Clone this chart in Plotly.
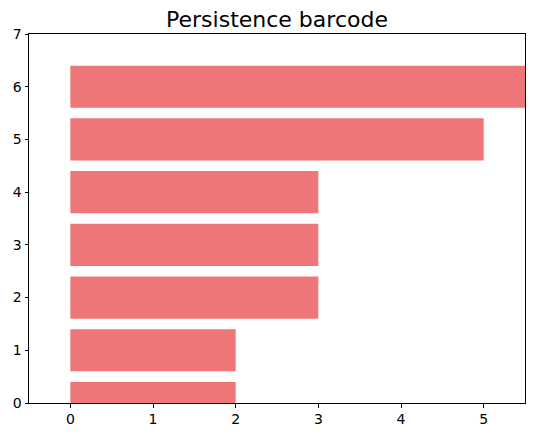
import plotly.graph_objects as go

# persistence intervals (birth, death); last one never dies
births = [0, 0, 0, 0, 0, 0, 0]
deaths = [2, 2, 3, 3, 3, 5, float('inf')]
rows = [0, 1, 2, 3, 4, 5, 6]

x_range = [-0.5, 5.5]
y_range = [0, 7]

# clip the infinite bar at the right edge of the axes
lengths = [min(d, x_range[1]) - b for b, d in zip(births, deaths)]

fig = go.Figure()

fig.add_trace(go.Bar(
    y=rows,
    x=lengths,
    base=births,
    orientation='h',
    width=0.8,
    marker=dict(color='rgb(238,118,120)', line=dict(width=0)),
    showlegend=False,
    hoverinfo='skip'
))

axis_style = dict(
    showline=True,
    linecolor='black',
    linewidth=1,
    mirror=True,
    layer='above traces',
    ticks='outside',
    ticklen=3.5,
    tickwidth=1,
    tickcolor='black',
    showgrid=False,
    zeroline=False,
    tickfont=dict(family='DejaVu Sans', size=14, color='black')
)

fig.update_layout(
    title=dict(
        text='Persistence barcode',
        x=0.5,
        xref='paper',
        y=1 - 19 / 437,
        yanchor='middle',
        font=dict(family='DejaVu Sans', size=22, color='black')
    ),
    xaxis=dict(range=x_range, tickvals=[0, 1, 2, 3, 4, 5], **axis_style),
    yaxis=dict(range=y_range, tickvals=[0, 1, 2, 3, 4, 5, 6, 7], **axis_style),
    width=534,
    height=437,
    margin=dict(l=29, r=9, t=34, b=34),
    plot_bgcolor='white',
    paper_bgcolor='white'
)

fig.write_html("out.html", config=dict(displayModeBar=False),
               post_script="document.body.style.margin='0';")
